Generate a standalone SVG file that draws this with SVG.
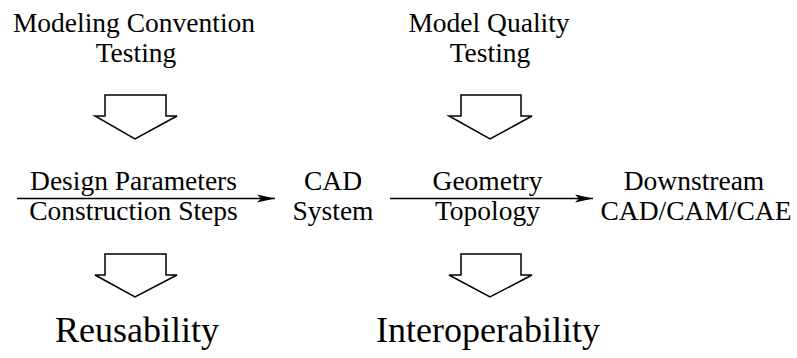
<svg xmlns="http://www.w3.org/2000/svg" width="797" height="358" viewBox="0 0 797 358">
<style>
.t{font-size:27.5px}
.b{font-size:36px}
.blk{fill:#fff;stroke:#000;stroke-width:1.5;stroke-linejoin:miter}
.ln{stroke:#000;stroke-width:1.5;fill:none}
</style>
<defs>
<marker id="ah" markerWidth="19" markerHeight="12" refX="18" refY="6" orient="auto" markerUnits="userSpaceOnUse">
<path d="M0,2 L18,6 L0,10 L4,6 Z" fill="#000"/>
</marker>
</defs>
<g font-family="Liberation Serif, DejaVu Serif, serif" text-anchor="middle" fill="#000">
<g id="mct">
<text class="t" x="134" y="32">Modeling Convention</text>
<text class="t" x="136" y="62">Testing</text>
</g>
<g id="mqt">
<text class="t" x="489" y="32">Model Quality</text>
<text class="t" x="490" y="62">Testing</text>
</g>
<g id="cad">
<text class="t" x="333" y="190">CAD</text>
<text class="t" x="333" y="220">System</text>
</g>
<g id="down">
<text class="t" x="694" y="190">Downstream</text>
<text class="t" x="696" y="220">CAD/CAM/CAE</text>
</g>
<g id="reuse"><text class="b" x="137" y="342">Reusability</text></g>
<g id="inter"><text class="b" x="488" y="342">Interoperability</text></g>
<g id="connectors">
<path class="blk" d="M105,95 H166 V116 H177 L135,139 L95,116 H105 Z"/>
<path class="blk" d="M461,95 H521 V116 H532 L490,139 L449,116 H461 Z"/>
<path class="blk" d="M105,254 H166 V275 H177 L135,297 L95,275 H105 Z"/>
<path class="blk" d="M461,254 H521 V275 H532 L490,297 L449,275 H461 Z"/>
<line class="ln" x1="17" y1="198.5" x2="275" y2="198.5" marker-end="url(#ah)"/>
<text class="t" x="133.5" y="190">Design Parameters</text>
<text class="t" x="133.5" y="220">Construction Steps</text>
<line class="ln" x1="390" y1="198.5" x2="593" y2="198.5" marker-end="url(#ah)"/>
<text class="t" x="487.5" y="190">Geometry</text>
<text class="t" x="487.5" y="220">Topology</text>
</g>
</g>
</svg>
